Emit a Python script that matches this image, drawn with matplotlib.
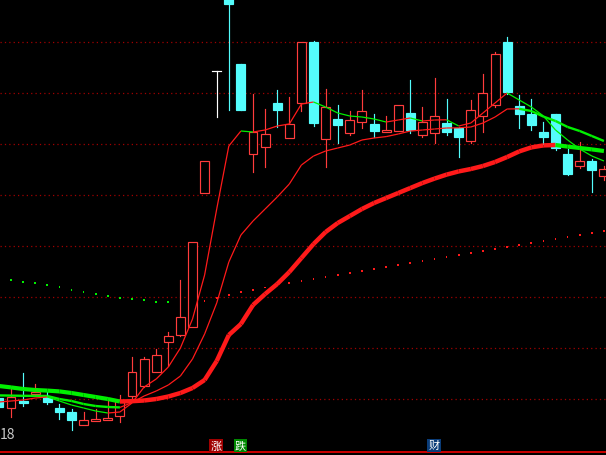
import matplotlib
matplotlib.use('Agg')
import matplotlib.pyplot as plt
from matplotlib.patches import Rectangle
from matplotlib.lines import Line2D

plt.rcParams['font.family'] = ['Noto Sans CJK SC', 'DejaVu Sans']

# 日K线数据 (开, 高, 低, 收)
opens = [10.025, 9.775, 9.95, 10.125, 10.05, 9.775, 9.675, 9.35, 9.45, 9.475,
         9.575, 10.075, 10.325, 10.675, 11.425, 11.6, 11.8, 15.15, 18.2, 19.99,
         18.375, 16.125, 16.3, 17.4, 16.525, 17.4, 18.925, 16.5, 17.0, 16.65,
         16.925, 16.875, 16.675, 16.7, 17.15, 16.6, 16.65, 16.9, 16.775, 16.45,
         17.075, 17.35, 18.925, 17.325, 17.125, 16.675, 17.125, 16.125, 15.825, 15.95,
         15.575]
highs = [10.05, 10.3, 10.65, 10.375, 10.175, 9.875, 9.75, 9.675, 9.75, 9.95,
         10.1, 11.05, 11.05, 11.25, 11.675, 12.975, 13.925, 15.95, 18.2, 19.99,
         18.375, 17.625, 17.25, 17.725, 17.55, 18.925, 18.95, 17.75, 17.35, 17.2,
         17.725, 17.125, 17.075, 17.35, 17.975, 17.3, 18.025, 17.5, 16.8, 17.475,
         18.125, 18.675, 19.05, 17.6, 17.5, 16.925, 17.125, 16.25, 16.425, 16.0,
         15.825]
lows = [9.775, 9.55, 9.825, 10.075, 9.875, 9.5, 9.225, 9.35, 9.45, 9.475,
        9.425, 10.0, 10.3, 10.675, 10.825, 11.575, 11.8, 15.15, 17.05, 17.225,
        17.225, 15.675, 15.8, 16.8, 16.525, 17.2, 16.825, 15.8, 16.4, 16.6,
        16.775, 16.55, 16.675, 16.7, 16.65, 16.55, 16.4, 16.6, 16.05, 16.4,
        16.675, 17.3, 17.625, 16.775, 16.725, 16.375, 16.225, 15.6, 15.775, 15.175,
        15.475]
closes = [9.8, 10.05, 9.9, 10.175, 9.925, 9.675, 9.475, 9.475, 9.5, 9.525,
          9.975, 10.675, 11.0, 11.1, 11.575, 12.05, 13.925, 15.95, 18.2, 19.875,
          17.225, 16.675, 16.625, 17.225, 16.875, 18.925, 16.9, 17.3, 16.85, 16.975,
          17.2, 16.7, 16.725, 17.35, 16.725, 16.925, 17.075, 16.675, 16.55, 17.225,
          17.65, 18.625, 17.675, 17.125, 16.85, 16.55, 16.275, 15.625, 15.95, 15.725,
          15.75]

# 均线
ma5 = [9.925, 9.95, 9.975, 10.025, 10.05, 9.95, 9.85, 9.775, 9.7, 9.65,
       9.675, 9.9, 10.3, 10.5, 10.8, 11.275, 12.0, 13.1, 14.75, 16.325,
       16.7, 16.675, 16.725, 16.825, 16.875, 17.375, 17.425, 17.3, 17.15, 17.075,
       17.05, 17.0, 16.925, 16.975, 17.025, 16.95, 16.975, 16.98, 16.825, 16.9,
       17.15, 17.4, 17.65, 17.475, 17.3, 17.075, 16.725, 16.475, 16.25, 16.075,
       15.95]
ma10 = [10.09, 10.085, 10.08, 10.078, 10.075, 10.0, 9.95, 9.875, 9.825, 9.8,
        9.79, 9.91, 10.075, 10.2, 10.35, 10.575, 11.0, 11.625, 12.4, 13.425,
        14.1, 14.45, 14.75, 15.05, 15.375, 15.85, 16.075, 16.2, 16.275, 16.35,
        16.475, 16.525, 16.56, 16.625, 16.7, 16.725, 16.75, 16.775, 16.78, 16.8,
        16.9, 17.05, 17.25, 17.255, 17.2, 17.06, 16.95, 16.8, 16.7, 16.575,
        16.45]
ma20 = [10.325, 10.29, 10.25, 10.225, 10.21, 10.19, 10.15, 10.1, 10.05, 10.0,
        9.9375, 9.945, 9.9625, 10.0, 10.0625, 10.15, 10.275, 10.475, 10.95, 11.6,
        11.875, 12.35, 12.625, 12.875, 13.175, 13.525, 13.875, 14.175, 14.4, 14.575,
        14.75, 14.9, 15.025, 15.15, 15.275, 15.4, 15.51, 15.61, 15.69, 15.75,
        15.825, 15.925, 16.05, 16.19, 16.29, 16.34, 16.35, 16.31, 16.275, 16.24,
        16.2]
ma60 = [13.0, 12.975, 12.925, 12.9, 12.85, 12.8, 12.725, 12.675, 12.625, 12.575,
        12.525, 12.5, 12.475, 12.425, 12.42, 12.4, 12.39, 12.45, 12.525, 12.6,
        12.675, 12.725, 12.79, 12.85, 12.9, 12.95, 13.0, 13.05, 13.1, 13.15,
        13.2, 13.25, 13.3, 13.35, 13.4, 13.45, 13.5, 13.55, 13.6, 13.65,
        13.7, 13.75, 13.8, 13.85, 13.9, 13.95, 14.0, 14.05, 14.1, 14.15,
        14.2]
grid_levels = [18.925, 17.65, 16.375, 15.1, 13.825, 12.55, 11.275, 10.0]

up_color = '#FF3C3C'
down_color = '#54FCFC'
ma_red = '#FF1A1A'
ma_green = '#00F000'

fig = plt.figure(figsize=(6.06, 4.56), dpi=100, facecolor='black')
ax = fig.add_axes([0, 0, 1, 1])
ax.set_facecolor('black')
ax.set_xlim(0.091, 50.17)
ax.set_ylim(8.6, 20.0)
ax.axis('off')

# 虚线网格
for lv in grid_levels:
    ax.axhline(lv, color='#A00000', lw=0.9, ls=(0, (1, 2.5)), zorder=1)

# K线
w = 0.74
lw_k = 0.85
for i in range(len(opens)):
    o, h, l, c = opens[i], highs[i], lows[i], closes[i]
    if c > o:
        ax.plot([i, i], [c, h], color=up_color, lw=lw_k, zorder=3)
        ax.plot([i, i], [l, o], color=up_color, lw=lw_k, zorder=3)
        ax.add_patch(Rectangle((i - w / 2, o), w, c - o, facecolor='black',
                               edgecolor=up_color, lw=lw_k, zorder=3))
    elif c < o:
        ax.plot([i, i], [l, h], color=down_color, lw=lw_k, zorder=3)
        ax.add_patch(Rectangle((i - w / 2, c), w, o - c, facecolor=down_color,
                               edgecolor=down_color, lw=lw_k, zorder=3))
    else:
        ax.plot([i, i], [l, h], color='white', lw=lw_k, zorder=3)
        ax.plot([i - w / 2, i + w / 2], [o, o], color='white', lw=lw_k, zorder=3)


# 均线: 上升红色, 下降绿色
def draw_ma(vals, lw_up, lw_down, z):
    for k in range(len(vals) - 1):
        up = vals[k + 1] > vals[k]
        ax.plot([k, k + 1], [vals[k], vals[k + 1]],
                color=ma_red if up else ma_green,
                lw=lw_up if up else lw_down, solid_capstyle='butt', zorder=z)


draw_ma(ma20, 3.2, 3.0, 4)
draw_ma(ma10, 0.9, 1.7, 5)
draw_ma(ma5, 0.9, 0.9, 6)

dot_colors = [ma_green] + [ma_red if ma60[k] > ma60[k - 1] else ma_green for k in range(1, len(ma60))]
ax.scatter(range(len(ma60)), ma60, s=1.5, marker='s', c=dot_colors, linewidths=0, zorder=2)

# 底部
fig.add_artist(Line2D([0, 1], [0.0055, 0.0055], color='#DD0000', lw=1.3, transform=fig.transFigure))
fig.text(0.0, 0.047, '18', color='#C8C8C8', fontsize=10, ha='left', va='center')
for x, s, bg in [(0.357, '涨', '#A00000'), (0.397, '跌', '#008800'), (0.716, '财', '#0A3C78')]:
    fig.text(x, 0.021, s, color='white', fontsize=8, ha='center', va='center',
             bbox=dict(boxstyle='square,pad=0.12', facecolor=bg, edgecolor='none'))

fig.savefig('out.png', dpi=100, facecolor='black')
